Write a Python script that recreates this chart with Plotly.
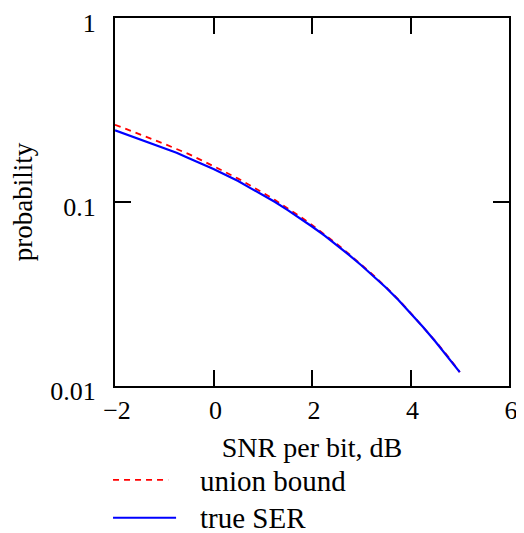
import plotly.graph_objects as go

snr_db = [-2, -1.75, -1.5, -1.25, -1, -0.75, -0.5, -0.25, 0, 0.25, 0.5, 0.75, 1, 1.25,
          1.5, 1.75, 2, 2.25, 2.5, 2.75, 3, 3.25, 3.5, 3.75, 4, 4.25, 4.5, 4.75, 5]
union_bound = [0.263, 0.248, 0.234, 0.220, 0.207, 0.194, 0.182, 0.169, 0.157, 0.145, 0.134,
               0.123, 0.1125, 0.1025, 0.0928, 0.0837, 0.0750, 0.0668, 0.0593, 0.0522, 0.0458,
               0.0399, 0.0345, 0.0296, 0.0250, 0.0211, 0.0176, 0.0146, 0.0119]
true_ser = [0.245, 0.232, 0.220, 0.208, 0.197, 0.185, 0.173, 0.162, 0.151, 0.140, 0.130,
            0.119, 0.109, 0.100, 0.0906, 0.0820, 0.0736, 0.0658, 0.0584, 0.0516, 0.0453,
            0.0395, 0.0343, 0.0294, 0.0249, 0.0210, 0.0175, 0.0145, 0.0119]
x_ticks = [-2, 0, 2, 4, 6]
x_ticktext = ["\u22122", "0", "2", "4", "6"]
y_ticks = [0.01, 0.1, 1]
y_ticktext = ["0.01", "0.1", "1"]
legend_names = ["union bound", "true SER"]

FONT = "Liberation Serif"

fig = go.Figure()
fig.add_trace(go.Scatter(x=snr_db, y=union_bound, mode="lines", name=legend_names[0],
                         line=dict(color="#ff0000", width=1.8, dash="6px,5px"), showlegend=False))
fig.add_trace(go.Scatter(x=snr_db, y=true_ser, mode="lines", name=legend_names[1],
                         line=dict(color="#0000ff", width=2.2), showlegend=False))

axis_common = dict(showline=True, linecolor="black", linewidth=2, mirror="ticks",
                   ticks="inside", ticklen=16, tickwidth=2, tickcolor="black",
                   showgrid=False, zeroline=False, automargin=False,
                   ticklabeloverflow="allow",
                   tickfont=dict(family=FONT, size=26, color="black"))

fig.update_xaxes(range=[-2, 6], tickvals=x_ticks, ticktext=x_ticktext,
                 title=dict(text="SNR per bit, dB", font=dict(family=FONT, size=28, color="black"),
                            standoff=13),
                 ticklabelstandoff=0, ticklabelshift=2, **axis_common)
fig.update_yaxes(type="log", range=[-2, 0], tickvals=y_ticks, ticktext=y_ticktext,
                 title=dict(text="probability", font=dict(family=FONT, size=27, color="black"),
                            standoff=20),
                 ticklabelstandoff=12, ticklabelshift=5, **axis_common)

# manual legend
shapes = [
    dict(type="line", xref="paper", yref="paper", x0=-0.005, x1=0.135, y0=-0.255, y1=-0.255,
         line=dict(color="#ff0000", width=1.8, dash="6px,5px")),
    dict(type="line", xref="paper", yref="paper", x0=-0.005, x1=0.155, y0=-0.358, y1=-0.358,
         line=dict(color="#0000ff", width=2.2)),
]
annotations = [
    dict(text=legend_names[0], xref="paper", yref="paper", x=0.21, y=-0.258, xanchor="left",
         yanchor="middle", showarrow=False, height=30, valign="middle",
         font=dict(family=FONT, size=29, color="black")),
    dict(text=legend_names[1], xref="paper", yref="paper", x=0.21, y=-0.358, xanchor="left",
         yanchor="middle", showarrow=False, height=30, valign="middle",
         font=dict(family=FONT, size=29, color="black")),
]

# page body has an 8px default margin, so the figure is 8px smaller and offset
fig.update_layout(width=516, height=525, margin=dict(l=107, r=15, t=10, b=147),
                  plot_bgcolor="white", paper_bgcolor="white",
                  shapes=shapes, annotations=annotations, showlegend=False)

fig.write_html("out.html")
